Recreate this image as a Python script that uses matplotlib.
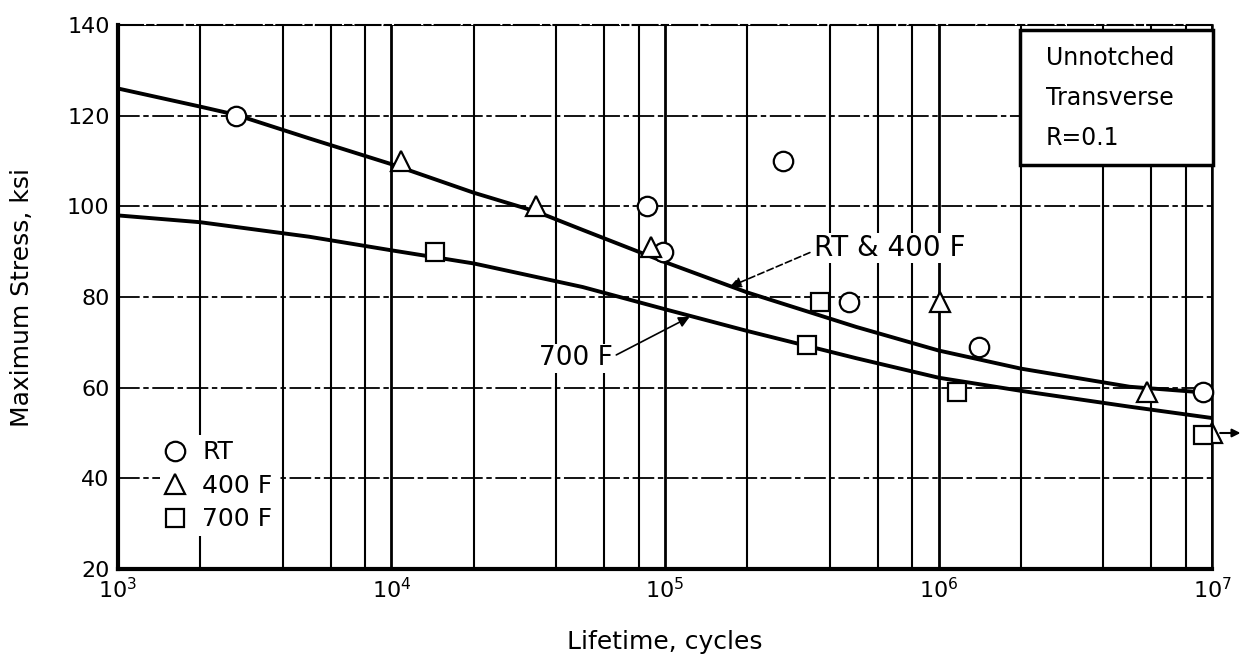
import matplotlib
matplotlib.use("Agg")
import matplotlib.pyplot as plt
from matplotlib.patches import Rectangle
from matplotlib.ticker import FixedLocator, NullFormatter

# fatigue data, maximum stress (ksi) vs lifetime (cycles)
rt_cycles = [2.7e3, 8.6e4, 9.8e4, 2.7e5, 4.7e5, 1.4e6, 9.3e6]
rt_stress = [120, 100, 90, 110, 79, 69, 59]

f400_cycles = [1.08e4, 3.37e4, 8.9e4, 1.01e6, 5.8e6, 1.0e7]
f400_stress = [110, 100, 91, 79, 59, 50]

f700_cycles = [1.44e4, 3.3e5, 3.7e5, 1.17e6, 9.3e6]
f700_stress = [90, 69.5, 79, 59, 49.5]

# faired S-N curves
fit_rt400_cycles = [1e3, 2e3, 2.7e3, 5e3, 1e4, 2e4, 3.4e4, 5e4, 1e5, 2e5, 5e5, 1e6, 2e6, 5e6, 1e7]
fit_rt400_stress = [126, 122, 120.2, 115, 109.3, 103, 98.8, 94.8, 87.7, 81, 73.4, 68.2, 64.2, 60.2, 58.8]

fit_700_cycles = [1e3, 2e3, 5e3, 1e4, 2e4, 5e4, 1e5, 2e5, 5e5, 1e6, 2e6, 5e6, 1e7]
fit_700_stress = [98, 96.5, 93.3, 90.3, 87.4, 82.2, 77.3, 72.5, 66.5, 62.2, 59.3, 55.8, 53.3]

y_ticks = [20, 40, 60, 80, 100, 120, 140]
x_ticks = [1e3, 1e4, 1e5, 1e6, 1e7]
x_tick_labels = [r"$10^3$", r"$10^4$", r"$10^5$", r"$10^6$", r"$10^7$"]

fig = plt.figure(figsize=(12.47, 6.59), dpi=100)
ax = fig.add_axes([0.0946, 0.1366, 0.8774, 0.8254])

ax.set_xscale("log")
ax.set_xlim(1e3, 1e7)
ax.set_ylim(20, 140)
ax.set_axisbelow(True)

# grid: solid verticals at 1,2,4,6,8 per decade, dash-dot horizontals
minor_x = [m * 10 ** d for d in range(3, 7) for m in (2, 4, 6, 8)]
ax.xaxis.set_major_locator(FixedLocator(x_ticks))
ax.xaxis.set_minor_locator(FixedLocator(minor_x))
ax.xaxis.set_minor_formatter(NullFormatter())
ax.set_xticks(x_ticks)
ax.set_xticklabels(x_tick_labels)
ax.set_yticks(y_ticks)
ax.grid(True, which="major", axis="x", color="black", lw=2.0)
ax.grid(True, which="minor", axis="x", color="black", lw=1.5)
ax.grid(True, which="major", axis="y", color="black", lw=1.3,
        linestyle=(0, (12, 2, 3, 2)))

ax.tick_params(which="both", length=0)
ax.tick_params(axis="both", labelsize=16, pad=6)

for side in ("left", "bottom"):
    ax.spines[side].set_linewidth(3.0)
ax.spines["right"].set_linewidth(1.8)
ax.spines["top"].set_linewidth(1.5)
ax.spines["top"].set_linestyle((0, (12, 2, 3, 2)))

ax.set_xlabel("Lifetime, cycles", fontsize=18, labelpad=20)
ax.set_ylabel("Maximum Stress, ksi", fontsize=18, labelpad=24)

# curves
ax.plot(fit_rt400_cycles, fit_rt400_stress, color="black", lw=2.8, zorder=3)
ax.plot(fit_700_cycles, fit_700_stress, color="black", lw=2.8, zorder=3)

# test points
mk = dict(linestyle="none", markerfacecolor="white", markeredgecolor="black",
          markeredgewidth=1.6, zorder=5, clip_on=False)
h_rt, = ax.plot(rt_cycles, rt_stress, marker="o", markersize=14, label="RT", **mk)
h_400, = ax.plot(f400_cycles, f400_stress, marker="^", markersize=15, label="400 F", **mk)
h_700, = ax.plot(f700_cycles, f700_stress, marker="s", markersize=13, label="700 F", **mk)

# run-out arrow on the last 400 F specimen
ax.annotate("", xy=(1.27e7, f400_stress[-1]), xytext=(1.07e7, f400_stress[-1]),
            annotation_clip=False,
            arrowprops=dict(arrowstyle="-|>", color="black", lw=1.5,
                            mutation_scale=12, shrinkA=0, shrinkB=0))

leg = ax.legend(handles=[h_rt, h_400, h_700], loc="lower left",
                bbox_to_anchor=(0.038, 0.06), fontsize=18, frameon=True,
                handlelength=0.8, handletextpad=0.7, labelspacing=0.38,
                borderpad=0.2, borderaxespad=0)
leg.get_frame().set_facecolor("white")
leg.get_frame().set_edgecolor("none")
leg.get_frame().set_alpha(1)
leg.set_zorder(6)

# curve labels
ax.annotate("RT & 400 F", xy=(1.73e5, 82.3), xytext=(3.5e5, 90.8),
            fontsize=20, ha="left", va="center", zorder=6,
            bbox=dict(fc="white", ec="none", pad=1),
            arrowprops=dict(arrowstyle="-|>", color="black", lw=1.2,
                            linestyle=(0, (4, 2)), mutation_scale=16,
                            shrinkA=2, shrinkB=0, relpos=(0, 0.4)))
ax.annotate("700 F", xy=(1.23e5, 75.6), xytext=(3.45e4, 66.5),
            fontsize=19, ha="left", va="center", zorder=6,
            bbox=dict(fc="white", ec="none", pad=1),
            arrowprops=dict(arrowstyle="-|>", color="black", lw=1.2,
                            mutation_scale=16, shrinkA=2, shrinkB=0,
                            relpos=(1, 0.55)))

# test-condition box
ax.add_patch(Rectangle((0.8245, 0.7426), 0.1764, 0.2485, transform=ax.transAxes,
                       facecolor="white", edgecolor="black", lw=2.5, zorder=7,
                       clip_on=False))
for yy, line in zip((0.939, 0.866, 0.792), ("Unnotched", "Transverse", "R=0.1")):
    ax.text(0.848, yy, line, transform=ax.transAxes, fontsize=17,
            ha="left", va="center", zorder=8)

fig.savefig("out.png", dpi=100)
